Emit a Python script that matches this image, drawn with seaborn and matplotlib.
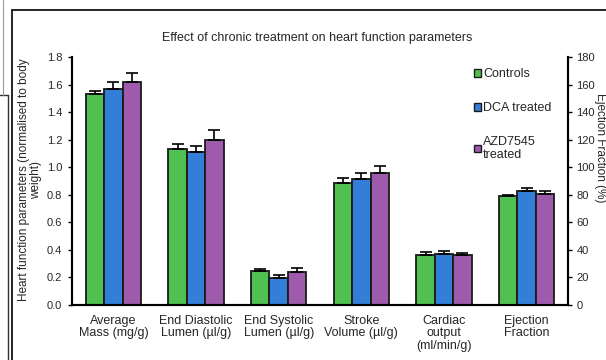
import numpy as np
import pandas as pd
import matplotlib
matplotlib.use("Agg")
import matplotlib.pyplot as plt
import seaborn as sns
from matplotlib.lines import Line2D
from matplotlib.patches import Patch

categories = ["Average\nMass (mg/g)", "End Diastolic\nLumen (µl/g)", "End Systolic\nLumen (µl/g)",
              "Stroke\nVolume (µl/g)", "Cardiac\noutput\n(ml/min/g)", "Ejection\nFraction"]
groups = ["Controls", "DCA treated", "AZD7545\ntreated"]
colors = ["#50c050", "#337fd8", "#9e5bab"]

# heart parameters, left axis (first five categories)
controls = [1.53, 1.13, 0.244, 0.887, 0.366]
dca = [1.57, 1.11, 0.193, 0.915, 0.371]
azd = [1.615, 1.20, 0.239, 0.956, 0.363]
controls_err = [0.022, 0.041, 0.019, 0.036, 0.019]
dca_err = [0.048, 0.043, 0.022, 0.040, 0.024]
azd_err = [0.070, 0.068, 0.032, 0.050, 0.018]

# ejection fraction (%), right axis
ef = [78.8, 82.9, 80.7]
ef_err = [1.4, 1.9, 1.7]

rows = []
for g, vals, errs in zip(groups, [controls, dca, azd], [controls_err, dca_err, azd_err]):
    for c, v, e in zip(categories[:5], vals, errs):
        rows.append({"cat": c, "group": g, "val": v, "err": e})
df = pd.DataFrame(rows)
df_ef = pd.DataFrame({"cat": categories[5], "group": groups, "val": ef, "err": ef_err})

sns.set_style("white")
plt.rcParams["font.family"] = ["Liberation Sans", "DejaVu Sans"]

fig = plt.figure(figsize=(6.06, 3.6), dpi=100)
ax = fig.add_axes([72 / 606, 1 - 305 / 360, (568 - 72) / 606, (305 - 57) / 360])
ax2 = ax.twinx()

bar_kw = dict(x="cat", y="val", hue="group", order=categories, hue_order=groups,
              palette=colors, saturation=1, width=0.67, errorbar=None, edgecolor="#1a1a1a",
              linewidth=1.3, legend=False)
sns.barplot(data=df, ax=ax, **bar_kw)
sns.barplot(data=df_ef, ax=ax2, **bar_kw)

# upward-only error bars from bar patches
for a, d in [(ax, df), (ax2, df_ef)]:
    for p in a.patches:
        h = p.get_height()
        if np.isnan(h) or h == 0:
            continue
        xc = p.get_x() + p.get_width() / 2
        match = d[np.isclose(d["val"], h)]
        if len(match) == 0:
            continue
        e = match["err"].iloc[0]
        a.errorbar(xc, h, yerr=[[0], [e]], fmt="none", ecolor="black",
                   elinewidth=1.2, capsize=4, capthick=1.2, zorder=1)

ax.set_ylim(0, 1.8)
ax2.set_ylim(0, 180)
ax.set_xlim(-0.5, 5.5)
ax.set_yticks(np.arange(0, 1.81, 0.2))
ax.set_yticklabels([f"{v:.1f}" for v in np.arange(0, 1.81, 0.2)])
ax2.set_yticks(np.arange(0, 181, 20))

ax.set_xticks(np.arange(-0.5, 6, 1))
ax.set_xticklabels([])
ax.set_xticks(np.arange(6), minor=True)
ax.set_xticklabels(categories, minor=True, fontsize=9, linespacing=1.05)
ax.tick_params(axis="x", which="minor", length=0, pad=7)
ax.tick_params(axis="x", which="major", direction="inout", length=5, width=1.2, color="black")
ax.tick_params(axis="y", direction="out", length=3, width=1, labelsize=8, color="black", left=True, pad=4)
ax2.tick_params(axis="y", direction="out", length=3, width=1, labelsize=8, color="black", right=True, pad=3)
ax.set_xlabel("")
ax.set_ylabel("")
ax2.set_ylabel("")

for a in (ax, ax2):
    a.spines["top"].set_visible(False)
    for s in ("left", "right", "bottom"):
        a.spines[s].set_color("black")
        a.spines[s].set_linewidth(1.5)

handles = [Patch(facecolor=c, edgecolor="#1a1a1a", linewidth=1) for c in colors]
leg = ax.legend(handles, groups, loc="upper left", bbox_to_anchor=(0.8, 0.975), frameon=False,
                fontsize=9, handlelength=0.6, handleheight=0.6, handletextpad=0.15,
                labelspacing=1.75, borderaxespad=0)
for t in leg.get_texts():
    t.set_linespacing(1.1)

fig.text(317 / 606, 1 - 38 / 360, "Effect of chronic treatment on heart function parameters",
         ha="center", va="center", fontsize=9)
fig.text(30 / 606, 1 - 180 / 360, "Heart function parameters (normalised to body\nweight)",
         ha="center", va="center", rotation=90, fontsize=8.5, linespacing=1.1)
fig.text(594 / 606, 1 - 148 / 360, "Ejection Fraction (%)",
         ha="left", va="center", rotation=-90, fontsize=8.5)

# outer frame lines
fig.add_artist(Line2D([12 / 606, 1.0], [1 - 10 / 360] * 2, color="black", lw=1.2))
fig.add_artist(Line2D([12 / 606] * 2, [0, 1 - 10 / 360], color="black", lw=1.2))
fig.add_artist(Line2D([8 / 606] * 2, [0, 1 - 95 / 360], color="#333333", lw=1))
fig.add_artist(Line2D([0, 8 / 606], [1 - 95 / 360] * 2, color="#333333", lw=1))
fig.add_artist(Line2D([3 / 606] * 2, [1 - 95 / 360, 1], color="#999999", lw=0.8))

fig.savefig("out.png", dpi=100)
